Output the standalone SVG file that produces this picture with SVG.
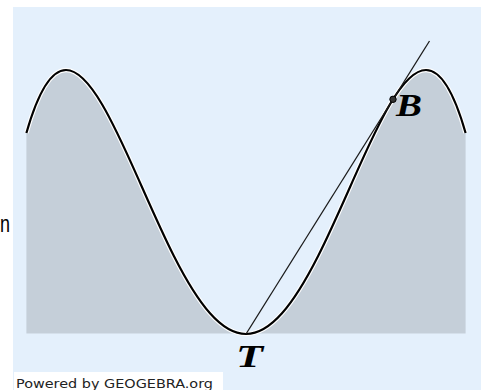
<svg xmlns="http://www.w3.org/2000/svg" width="484" height="390" viewBox="0 0 484 390">
  <style>
    .curve { fill: none; stroke: #000; stroke-width: 2.2; stroke-linejoin: round; }
    .halo { fill: none; stroke: #fff; stroke-width: 4.5; }
    .area { fill: #c5cfd9; stroke: none; }
    .tangent { stroke: #1a1a1a; stroke-width: 1.3; fill: none; }
    .lbl { font-family: "Liberation Serif", "DejaVu Serif", serif; font-style: italic; font-weight: bold; font-size: 31px; fill: #000; }
    .credit { font-family: "DejaVu Sans", "Liberation Sans", sans-serif; font-size: 12.5px; fill: #222; }
  </style>
  <defs>
    <path id="f" d="M26.4,132.96 C39.6,86.82 52.8,70 66,70 C78,70 90,83.93 102,104.21 C114,124.49 126,151.1 138,178.13 C150,205.16 162,232.63 174,256.28 C186,279.93 198,299.78 210,313.3 C222,326.82 234,334 246,334 C258,334 270,326.82 282,313.3 C294,299.78 306,279.93 318,256.28 C330,232.63 342,205.16 354,178.13 C366,151.1 378,124.49 390,104.21 C402,83.93 414,70 426,70 C439.2,70 452.4,86.82 465.6,132.96"/>
  </defs>
  <rect x="0" y="0" width="484" height="390" fill="#ffffff"/>
  <g id="background">
    <rect x="13" y="7" width="468" height="383" fill="#e4f0fc"/>
  </g>
  <g id="area">
    <path class="area" d="M26.4,132.96 C39.6,86.82 52.8,70 66,70 C78,70 90,83.93 102,104.21 C114,124.49 126,151.1 138,178.13 C150,205.16 162,232.63 174,256.28 C186,279.93 198,299.78 210,313.3 C222,326.82 234,334 246,334 C258,334 270,326.82 282,313.3 C294,299.78 306,279.93 318,256.28 C330,232.63 342,205.16 354,178.13 C366,151.1 378,124.49 390,104.21 C402,83.93 414,70 426,70 C439.2,70 452.4,86.82 465.6,132.96 L465.6,333.5 L26.4,333.5 Z"/>
  </g>
  <g id="graph">
    <use href="#f" class="halo"/>
    <use href="#f" class="curve"/>
  </g>
  <g id="tangent">
    <line class="tangent" x1="246" y1="334" x2="429.5" y2="41"/>
  </g>
  <g id="point-B">
    <circle cx="393" cy="99.3" r="3.2" fill="#333" stroke="#000" stroke-width="1"/>
    <text class="lbl" x="396" y="115.5" textLength="26" lengthAdjust="spacingAndGlyphs">B</text>
  </g>
  <g id="point-T">
    <text class="lbl" x="236" y="366.5" textLength="27" lengthAdjust="spacingAndGlyphs">T</text>
  </g>
  <g id="edge-text">
    <text x="0" y="232" font-family="Liberation Sans, sans-serif" font-size="23" fill="#000" textLength="10" lengthAdjust="spacingAndGlyphs">n</text>
  </g>
  <g id="credit">
    <rect x="14" y="372" width="209" height="18" fill="#ffffff"/>
    <text class="credit" x="16" y="388" textLength="197" lengthAdjust="spacingAndGlyphs">Powered by GEOGEBRA.org</text>
  </g>
</svg>
